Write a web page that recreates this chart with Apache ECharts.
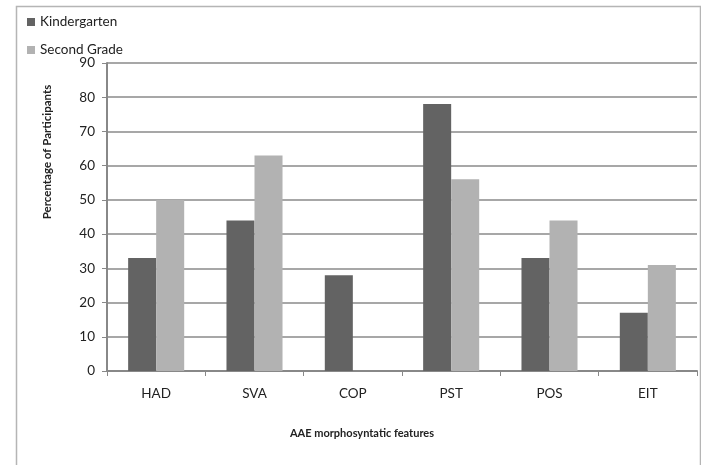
<!DOCTYPE html>
<html><head><meta charset="utf-8">
<script src="https://cdn.jsdelivr.net/npm/echarts@6/dist/echarts.min.js"></script>
<style>html,body{margin:0;padding:0;background:#fff}#c{width:701px;height:465px}</style>
</head><body><div id="c"></div>
<script>
const categories = ['HAD','SVA','COP','PST','POS','EIT'];
const kindergarten = [33,44,28,78,33,17];
const secondGrade = [50,63,0,56,44,31];
const seriesNames = ['Kindergarten','Second Grade'];
const yTitle = 'Percentage of Participants';
const xTitle = 'AAE morphosyntatic features';

const font = 'Lato, "Open Sans", sans-serif';
const chart = echarts.init(document.getElementById('c'));
chart.setOption({
  animation:false,
  backgroundColor:'#fff',
  color:['#636363','#b2b2b2'],
  legend:{
    orient:'vertical', left:22, top:10, itemWidth:8, itemHeight:8, itemGap:14,
    icon:'rect',
    textStyle:{fontFamily:font, fontSize:13.5, color:'#222'},
    data:seriesNames
  },
  grid:{left:107, right:4, top:63, bottom:94, containLabel:false},
  xAxis:{
    type:'category', data:categories,
    axisLine:{lineStyle:{color:'#888', width:2}},
    axisTick:{show:true, alignWithLabel:false, length:5, lineStyle:{color:'#888'}},
    axisLabel:{fontFamily:font, fontSize:13.5, color:'#222', margin:16}
  },
  yAxis:{
    type:'value', min:0, max:90, interval:10,
    axisLine:{show:true, lineStyle:{color:'#888', width:2}},
    axisTick:{show:true, length:5, lineStyle:{color:'#888'}},
    axisLabel:{fontFamily:font, fontSize:13.5, color:'#222', margin:12},
    splitLine:{lineStyle:{color:'#8a8a8a', width:1.5}}
  },
  series:[
    {name:seriesNames[0], type:'bar', data:kindergarten, barGap:'0%', barCategoryGap:'43%'},
    {name:seriesNames[1], type:'bar', data:secondGrade, barGap:'0%', barCategoryGap:'43%'}
  ],
  graphic:[
    {type:'rect', left:14, top:4, shape:{width:684, height:470}, style:{fill:'none', stroke:'#b5b5b5', lineWidth:1.5}, silent:true},
    {type:'text', x:47, y:152, rotation:Math.PI/2, style:{text:yTitle, font:'bold 11.5px '+font, fill:'#222', textAlign:'center', textVerticalAlign:'middle'}},
    {type:'text', x:362, y:433, style:{text:xTitle, font:'bold 11px '+font, fill:'#222', textAlign:'center', textVerticalAlign:'middle'}}
  ]
});
</script></body></html>
